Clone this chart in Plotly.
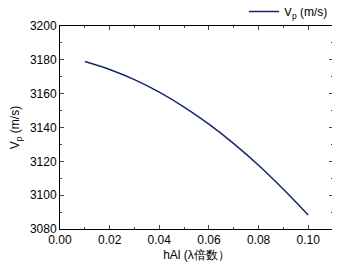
import plotly.graph_objects as go

hal = [0.01, 0.02, 0.03, 0.04, 0.05, 0.06, 0.07, 0.08, 0.09, 0.10]
vp = [3179.0, 3174.3, 3168.3, 3160.9, 3152.1, 3142.0, 3130.5, 3117.7, 3103.5, 3088.3]

fig = go.Figure()
fig.add_trace(go.Scatter(x=hal, y=vp, mode="lines", name="V<sub>p</sub> (m/s)",
                         line=dict(color="#16256b", width=1.5, shape="spline")))

# page body has an 8px default margin, so the figure is sized to fit 340x268 window
font = dict(family="Liberation Sans, Arial, sans-serif", size=12, color="#000")
fig.update_layout(
    width=332, height=260,
    margin=dict(l=52, r=7, t=18, b=39, autoexpand=False),
    paper_bgcolor="white", plot_bgcolor="white",
    font=font,
    showlegend=True,
    legend=dict(x=1.0, y=1.0, xanchor="right", yanchor="bottom",
                bgcolor="rgba(0,0,0,0)", font=dict(size=12),
                itemwidth=30, tracegroupgap=0),
)
fig.update_xaxes(range=[0, 0.11], tickvals=[0, 0.02, 0.04, 0.06, 0.08, 0.10],
                 tickformat=".2f", ticks="inside", ticklen=4, tickwidth=1,
                 minor=dict(dtick=0.01, tick0=0, ticks="inside", ticklen=2),
                 showline=True, linecolor="black", linewidth=1, mirror="ticks",
                 showgrid=False, zeroline=False,
                 title=dict(text="hAl (λ倍数）", standoff=4, font=dict(size=12)))
fig.update_yaxes(range=[3080, 3200], dtick=20, ticks="inside", ticklen=4, tickwidth=1,
                 minor=dict(dtick=10, ticks="inside", ticklen=2),
                 showline=True, linecolor="black", linewidth=1, mirror="ticks",
                 showgrid=False, zeroline=False,
                 title=dict(text="V<sub>p</sub> (m/s)", standoff=12, font=dict(size=12)))

fig.write_html("out.html")
